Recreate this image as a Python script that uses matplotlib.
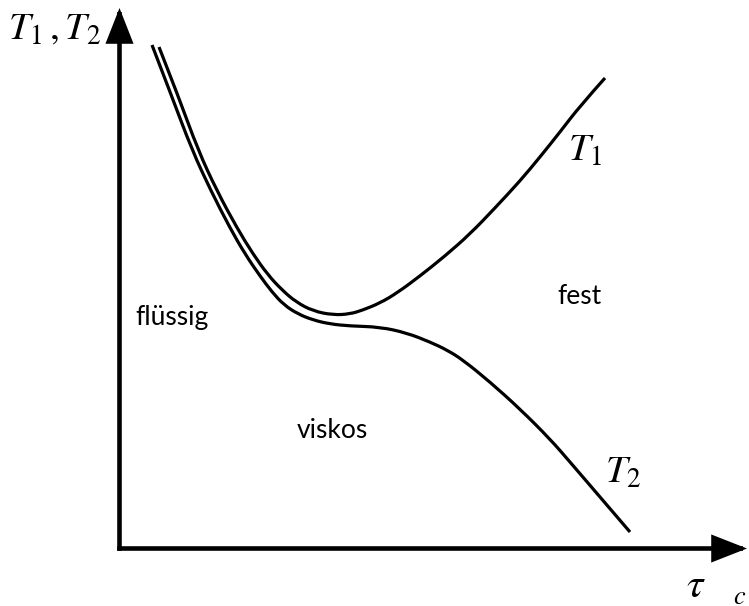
import matplotlib
matplotlib.use("Agg")
import matplotlib.pyplot as plt
from matplotlib.patches import FancyArrowPatch, PathPatch
from matplotlib.path import Path

# Curve traces in figure pixel coordinates (x to the right, y downward)
t1_x = [159, 179, 198, 217, 237, 253, 268, 282, 296, 313, 333, 350, 363, 380,
        397, 420, 445, 470, 495, 520, 540, 560, 580, 605]
t1_y = [47, 98, 150, 191, 228, 254, 275, 290, 302, 311, 315, 314, 310, 303,
        293, 276, 256, 234, 208, 181, 157, 132, 106, 78]

t2_x = [152, 172, 192, 211, 230, 245, 260, 272, 284, 298, 313, 330, 350, 380,
        407, 430, 447, 463, 490, 520, 550, 570, 600, 630]
t2_y = [45, 97, 150, 191, 228, 254, 276, 292, 305, 314, 320, 324, 326, 327,
        333, 342, 350, 360, 382, 409, 439, 462, 497, 532]

region_labels = ["flüssig", "fest", "viskos"]
region_pos = [(135, 318), (557, 297), (297, 431)]

W, H = 749, 606
fig = plt.figure(figsize=(W / 100, H / 100), dpi=100)
ax = fig.add_axes([0, 0, 1, 1])
ax.set_xlim(0, W)
ax.set_ylim(H, 0)
ax.axis("off")


def smooth_path(xs, ys):
    """Quadratic Bezier chain through the midpoints of the traced points."""
    pts = list(zip(xs, ys))
    verts = [pts[0]]
    codes = [Path.MOVETO]
    for i in range(1, len(pts) - 1):
        mid = ((pts[i][0] + pts[i + 1][0]) / 2, (pts[i][1] + pts[i + 1][1]) / 2)
        end = pts[-1] if i == len(pts) - 2 else mid
        verts += [pts[i], end]
        codes += [Path.CURVE3, Path.CURVE3]
    return Path(verts, codes)


# Axes with arrow heads
origin = (119.5, 548.5)
for end in [(119.5, 8), (747, 548.5)]:
    ax.add_patch(FancyArrowPatch(origin, end, arrowstyle="-|>,head_length=1.4,head_width=0.55",
                                 mutation_scale=14, lw=3.3, color="black",
                                 shrinkA=0, shrinkB=0, joinstyle="miter", capstyle="projecting"))

for xs, ys in [(t1_x, t1_y), (t2_x, t2_y)]:
    ax.add_patch(PathPatch(smooth_path(xs, ys), facecolor="none", edgecolor="black",
                           lw=2.3, capstyle="butt"))

for txt, (x, y) in zip(region_labels, region_pos):
    ax.text(x, y, txt, fontsize=19, family="Lato", ha="left", va="center")

plt.rcParams["mathtext.fontset"] = "stix"
ax.text(8, 28, r"$T_{\mathrm{1}}\,,T_{\mathrm{2}}$", fontsize=28, ha="left", va="center")
ax.text(568, 150, r"$T_{\mathrm{1}}$", fontsize=28, ha="left", va="center")
ax.text(605, 472, r"$T_{\mathrm{2}}$", fontsize=28, ha="left", va="center")
ax.text(686, 597, r"$\tau$", fontsize=30, ha="left", va="baseline")
ax.text(733, 604, r"$c$", fontsize=19, ha="left", va="baseline")

fig.savefig("out.png", dpi=100)
